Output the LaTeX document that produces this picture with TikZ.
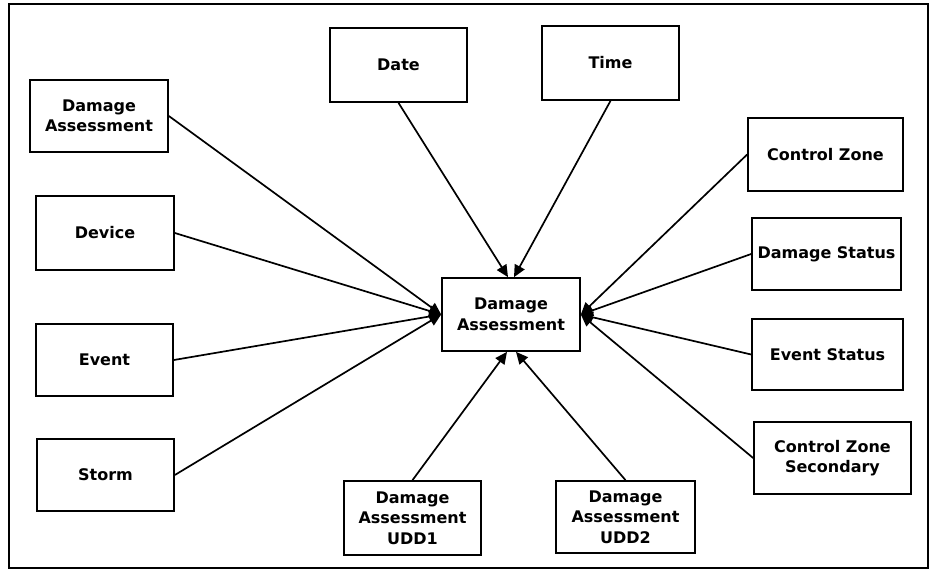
\documentclass[tikz,border=0pt]{standalone}
\usepackage{fontspec}
\setmainfont{DejaVu Sans}
\usetikzlibrary{arrows.meta}
\begin{document}
\begin{tikzpicture}[x=1pt,y=-1pt,
  box/.style={draw, line width=1.7pt, inner sep=0pt, align=center,
    font=\bfseries\fontsize{16}{20.5}\selectfont},
  conn/.style={line width=1.7pt, -{Triangle[length=12pt,width=11pt]}},
  frame/.style={line width=2pt}]
\useasboundingbox (0,0) rectangle (933,572);
\draw[frame] (9,4) rectangle (928,568);

\node[box, minimum width=138pt, minimum height=73pt] (center) at (511,314.5) {Damage\\Assessment};

\node[box, minimum width=138pt, minimum height=72pt] (da) at (99,116) {Damage\\Assessment};
\node[box, minimum width=138pt, minimum height=74pt] (device) at (105,233) {Device};
\node[box, minimum width=137pt, minimum height=72pt] (event) at (104.5,360) {Event};
\node[box, minimum width=137pt, minimum height=72pt] (storm) at (105.5,475) {Storm};

\node[box, minimum width=137pt, minimum height=74pt] (date) at (398.5,65) {Date};
\node[box, minimum width=137pt, minimum height=74pt] (time) at (610.5,63) {Time};

\node[box, minimum width=155pt, minimum height=73pt] (cz) at (825.5,154.5) {Control Zone};
\node[box, minimum width=149pt, minimum height=72pt] (ds) at (826.5,254) {Damage Status};
\node[box, minimum width=151pt, minimum height=71pt] (es) at (827.5,354.5) {Event Status};
\node[box, minimum width=157pt, minimum height=72pt] (czs) at (832.5,458) {Control Zone\\Secondary};

\node[box, minimum width=137pt, minimum height=74pt] (udd1) at (412.5,518) {Damage\\Assessment\\UDD1};
\node[box, minimum width=139pt, minimum height=72pt] (udd2) at (625.5,517) {Damage\\Assessment\\UDD2};

\draw[conn] (da.east) -- (center.west);
\draw[conn] (device.east) -- (center.west);
\draw[conn] (event.east) -- (center.west);
\draw[conn] (storm.east) -- (center.west);

\draw[conn] (date.south) -- ([xshift=-3pt]center.north);
\draw[conn] (time.south) -- ([xshift=3pt]center.north);

\draw[conn] (cz.west) -- (center.east);
\draw[conn] (ds.west) -- (center.east);
\draw[conn] (es.west) -- (center.east);
\draw[conn] (czs.west) -- (center.east);

\draw[conn] (udd1.north) -- ([xshift=-4pt]center.south);
\draw[conn] (udd2.north) -- ([xshift=5pt]center.south);
\end{tikzpicture}
\end{document}
